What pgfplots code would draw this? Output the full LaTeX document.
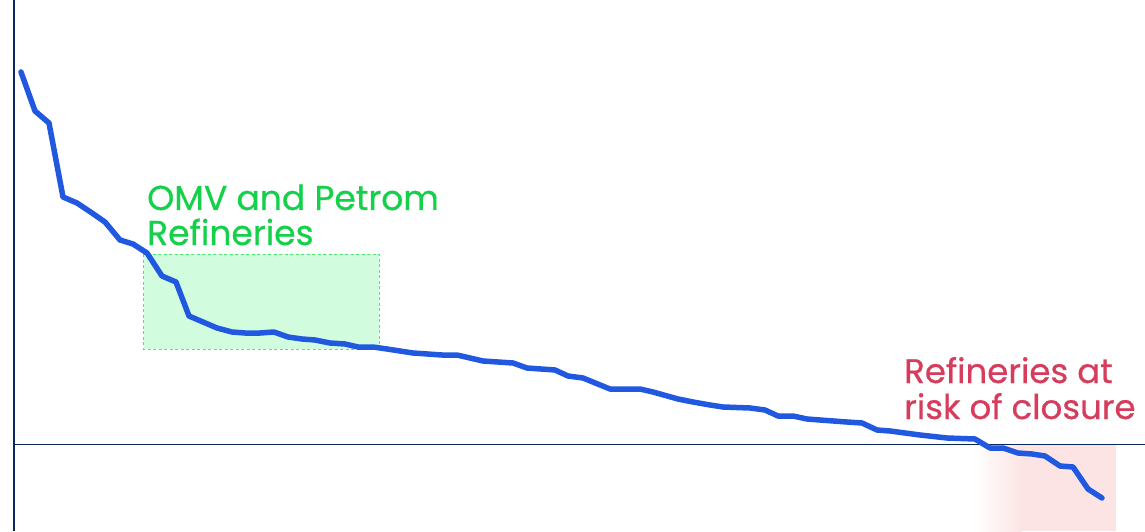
\documentclass[border=0pt]{standalone}
\usepackage{pgfplots}
\pgfplotsset{compat=1.18}
\usepackage{fontspec}
\setmainfont{Poppins}
\newfontfamily\labelfont{Poppins}[FakeBold=0.6]
\definecolor{lineblue}{RGB}{33,88,224}
\definecolor{axisnavy}{RGB}{12,40,90}
\definecolor{omvgreen}{RGB}{20,208,74}
\definecolor{omvfill}{RGB}{210,252,222}
\definecolor{omvborder}{RGB}{80,228,118}
\definecolor{riskred}{RGB}{214,60,92}
\definecolor{riskfill}{RGB}{253,228,228}
\begin{document}
\begin{tikzpicture}
\useasboundingbox (0,0) rectangle (1145pt,531pt);
\begin{axis}[
  width=1145pt, height=531pt, scale only axis,
  xmin=0, xmax=1145, ymin=-87, ymax=444,
  hide axis, clip=false,
]
% highlight regions
\fill[omvfill] (axis cs:143.5,190) rectangle (axis cs:379,95);
\draw[omvborder, dash pattern=on 3pt off 2.5pt, line width=1pt] (axis cs:143.5,190) rectangle (axis cs:379,95);
\shade[left color=white, right color=riskfill, shading angle=90] (axis cs:973,0) rectangle (axis cs:1022,-87);
\fill[riskfill] (axis cs:1021,0) rectangle (axis cs:1116,-87);
% axes
\addplot[axisnavy, line width=2pt] coordinates {(13.5,-87) (13.5,444)};
\addplot[axisnavy, line width=1.8pt] coordinates {(13.5,-0.5) (1145,-0.5)};
% series
\addplot[lineblue, line width=5.5pt, line join=round, line cap=round] coordinates {
(21,372) (35,333) (49,321) (63,247) (77,241) (92,231) (105,222) (120,204) (133,200) (147,191)
(162,168) (176,162) (189,128) (203,122) (217,116) (232,112) (245,111) (260,111) (274,112) (288,107)
(302,105) (315,104) (330,101) (345,100) (358,97) (373,97) (387,95) (413,91) (442,89) (457,89)
(483,83) (513,81) (527,76) (555,74) (568,68) (583,66) (610,55) (640,55) (653,52) (678,45)
(693,42) (710,39) (723,37) (750,36) (765,34) (778,28) (793,28) (807,25) (820,24) (847,22)
(862,21) (877,14) (890,13) (905,11) (920,9) (947,6) (975,5) (990,-4) (1003,-4) (1018,-9)
(1032,-10) (1045,-12) (1060,-22) (1073,-23) (1088,-45) (1102,-54)
};
% labels
\node[anchor=base west, text=omvgreen, font=\labelfont\fontsize{34.5}{36}\selectfont, inner sep=0pt] at (axis cs:147,234) {OMV and Petrom};
\node[anchor=base west, text=omvgreen, font=\labelfont\fontsize{34.5}{36}\selectfont, inner sep=0pt] at (axis cs:147,199) {Refineries};
\node[anchor=base west, text=riskred, font=\labelfont\fontsize{34}{36}\selectfont, inner sep=0pt] at (axis cs:904,61) {Refineries at};
\node[anchor=base west, text=riskred, font=\labelfont\fontsize{34}{36}\selectfont, inner sep=0pt] at (axis cs:904,25) {risk of closure};
\end{axis}
\end{tikzpicture}
\end{document}
